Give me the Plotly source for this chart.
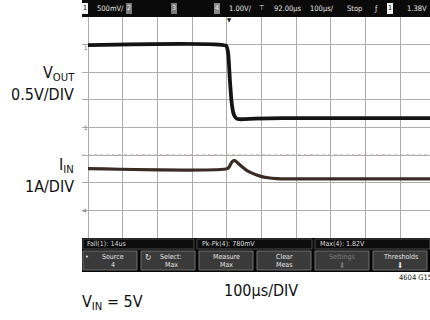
import plotly.graph_objects as go

# Scope capture: VOUT (ch1, 0.5V/div) and IIN (ch4, 1A/div), 100us/div
t_vout = [0, 398, 404, 409, 414, 419, 424, 429, 436, 450, 480, 560, 700, 850, 990]
vout = [1.49, 1.48, 1.34, 0.85, 0.45, 0.26, 0.19, 0.16, 0.15, 0.15, 0.16, 0.17, 0.17, 0.17, 0.17]

t_iin = [0, 402, 408, 413, 418, 422, 427, 438, 457, 476, 496, 519, 544, 580, 650, 800, 990]
iin = [1.51, 1.51, 1.60, 1.72, 1.79, 1.80, 1.77, 1.64, 1.45, 1.33, 1.24, 1.18, 1.15, 1.14, 1.14, 1.14, 1.14]

top_labels = ["500mV/", "1.00V/", "92.00µs", "100µs/", "Stop", "ƒ", "1.38V"]
meas_labels = ["Fall(1): 14us", "Pk-Pk(4): 780mV", "Max(4): 1.82V"]
button_labels = [("Source", "4"), ("Select:", "Max"), ("Measure", "Max"),
                 ("Clear", "Meas"), ("Settings", "⬇"), ("Thresholds", "⬇")]

W, H = 430, 320
L, T = 82, 17
PW, PH = W - L, 221

def fx(px):
    return (px - L) / PW

def fy(py):
    return (T + PH - py) / PH

NARROW = "Liberation Sans Narrow, DejaVu Sans Condensed, Arial Narrow, sans-serif"
SCOPE = "DejaVu Sans Condensed, Liberation Sans Narrow, sans-serif"

fig = go.Figure()
fig.add_trace(go.Scatter(x=t_vout, y=vout, mode="lines", yaxis="y",
                         line=dict(color="#141414", width=3.8, shape="spline", smoothing=0.4),
                         hoverinfo="skip", showlegend=False))
fig.add_trace(go.Scatter(x=t_iin, y=iin, mode="lines", yaxis="y2",
                         line=dict(color="#3a2c24", width=3.2, shape="spline", smoothing=0.6),
                         hoverinfo="skip", showlegend=False))

grid = "#acacac"
fig.update_layout(
    width=W, height=H,
    margin=dict(l=L, r=0, t=T, b=H - T - PH),
    paper_bgcolor="white", plot_bgcolor="white",
    xaxis=dict(range=[(L - 88) / 0.347, (W - 88) / 0.347], tick0=0, dtick=100,
               showgrid=True, gridcolor=grid, gridwidth=1, zeroline=False,
               showticklabels=False, ticks="", showline=False, fixedrange=True),
    yaxis=dict(range=[-2, 2], tick0=0, dtick=0.5, showgrid=True, gridcolor=grid,
               gridwidth=1, zeroline=False, showticklabels=False, ticks="",
               showline=False, fixedrange=True),
    yaxis2=dict(range=[-1, 7], overlaying="y", showgrid=False, zeroline=False,
                showticklabels=False, ticks="", showline=False, fixedrange=True),
)

shapes = []
# dotted centre lines of the graticule
shapes.append(dict(type="line", xref="paper", yref="y", x0=0, x1=1, y0=0, y1=0,
                   line=dict(color="white", width=1.5), layer="between"))
shapes.append(dict(type="line", xref="paper", yref="y", x0=0, x1=1, y0=0, y1=0,
                   line=dict(color="#939393", width=1, dash="dot"), layer="between"))
shapes.append(dict(type="line", xref="x", yref="paper", x0=500, x1=500, y0=0, y1=1,
                   line=dict(color="white", width=1.5), layer="between"))
shapes.append(dict(type="line", xref="x", yref="paper", x0=500, x1=500, y0=0, y1=1,
                   line=dict(color="#939393", width=1, dash="dot"), layer="between"))
# measurement threshold on channel 4
shapes.append(dict(type="line", xref="paper", yref="y2", x0=0, x1=1, y0=2, y1=2,
                   line=dict(color="white", width=1.5), layer="between"))
shapes.append(dict(type="line", xref="paper", yref="y2", x0=0, x1=1, y0=2, y1=2,
                   line=dict(color="#bd968d", width=1.2, dash="dot"), layer="between"))

def rect(x0, y0, x1, y1, fill, line=None, lw=0):
    shapes.append(dict(type="rect", xref="paper", yref="paper",
                       x0=fx(x0), x1=fx(x1), y0=fy(y1), y1=fy(y0),
                       fillcolor=fill, line=dict(color=line or fill, width=lw),
                       layer="above"))

# status bar
rect(L, 0, W, T, "#0a0a0a")
for x0, lab, fill, fg in [(82, "1", "#f0f0f0", "#000"), (126, "2", "#7a7a7a", "#eee"),
                          (171, "3", "#7a7a7a", "#eee"), (214, "4", "#8a8a8a", "#eee"),
                          (387, "1", "#f0f0f0", "#000")]:
    rect(x0, 3, x0 + 6, 14, fill)

# measurement row and soft-key row
rect(L, T + PH, W, 272, "#050505")
for x0, x1 in [(83, 194), (197, 312), (315, W)]:
    rect(x0, 239, x1, 249, "#0c0c0c", "#4a4a4a", 1)
for k in range(6):
    x0 = 82 + 58 * k
    rect(x0 + 1, 251, x0 + 55, 270, "#3a3a3a", "#6e6e6e", 1)

fig.update_layout(shapes=shapes)

ann = []

def text(px, py, s, size, color="#111", anchor="left", family=NARROW, valign="middle"):
    ann.append(dict(x=fx(px), y=fy(py), xref="paper", yref="paper", text=s,
                    showarrow=False, xanchor=anchor, yanchor=valign,
                    font=dict(size=size, color=color, family=family)))

# status bar text
for x0, lab, fg in [(82, "1", "#000"), (126, "2", "#eee"), (171, "3", "#eee"),
                    (214, "4", "#eee"), (387, "1", "#000")]:
    text(x0 + 3, 8.5, lab, 7, fg, "center", SCOPE)
for px, lab in zip([95, 227, 272, 308, 345, 372, 405], top_labels):
    text(px, 8.5, lab, 7.5, "#e6e6e6", "left", SCOPE)
text(262, 8.5, "⊤", 7, "#e6e6e6", "center", SCOPE)
text(229, 20, "▼", 6, "#222", "center", SCOPE)

# channel reference markers
text(85, 48, "1", 6, "#666", "center", SCOPE)
text(85, 127.5, "1", 6, "#666", "center", SCOPE)
text(85, 210.4, "4", 6, "#666", "center", SCOPE)

# measurement readouts
for px, lab in zip([85, 200, 318], meas_labels):
    text(px, 244, lab, 7, "#dcdcdc", "left", SCOPE)

# soft keys
for k, (l1, l2) in enumerate(button_labels):
    cx = 82 + 58 * k + 28
    col = "#7c7c7c" if l1 == "Settings" else "#e4e4e4"
    text(cx + (3 if k < 2 else 0), 256.5, l1, 7, col, "center", SCOPE)
    if l2 == "⬇":
        text(cx, 265, l2, 8, col, "center", SCOPE)
    else:
        text(cx + (3 if k < 2 else 0), 264.5, l2, 7, col, "center", SCOPE)
text(87, 256.5, "•", 7, "#e4e4e4", "center", SCOPE)
text(148, 257.5, "↻", 8, "#e4e4e4", "center", SCOPE)

# channel labels
text(77, 73, "V<sub>OUT</sub>", 16, anchor="right")
text(76, 95, "0.5V/DIV", 16, anchor="right")
text(76, 165, "I<sub>IN</sub>", 16, anchor="right")
text(76, 187, "1A/DIV", 16, anchor="right")

# footer
text(261, 290, "100µs/DIV", 16, anchor="center")
text(80, 302, "V<sub>IN</sub> = 5V", 16, anchor="left")
text(397, 277, "4604 G15", 7.5, anchor="left")

fig.update_layout(annotations=ann)
fig.write_html("out.html")
